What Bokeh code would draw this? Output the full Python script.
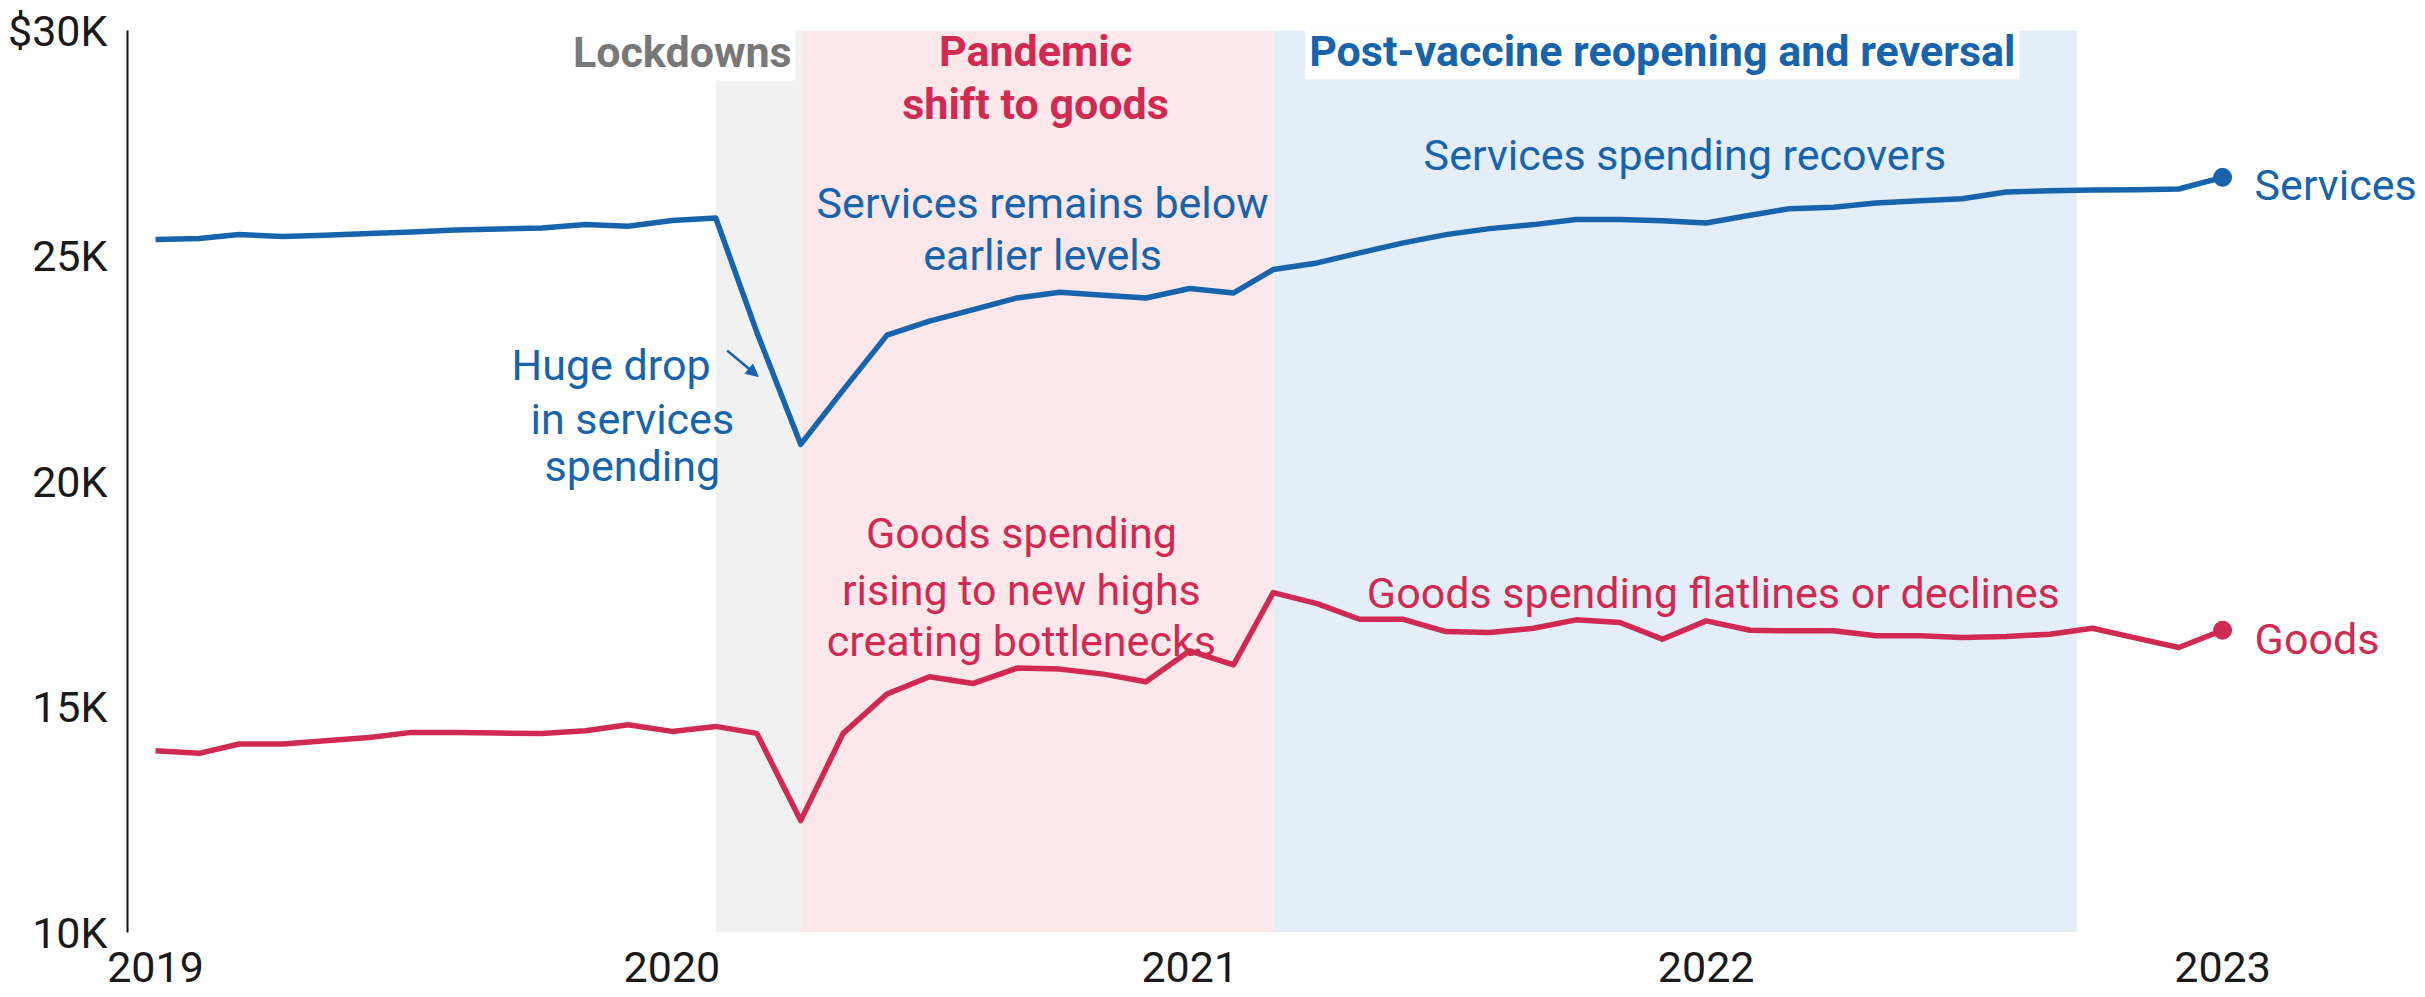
import pandas as pd
from bokeh.plotting import figure
from bokeh.models import (Range1d, FixedTicker, DatetimeTickFormatter, BoxAnnotation,
                          Label, ColumnDataSource, Arrow, NormalHead)
from bokeh.embed import file_html
from bokeh.resources import INLINE

# ---------------- data ----------------
months = pd.date_range("2019-01-01", "2023-01-01", freq="MS")

services = [25364, 25386, 25475, 25431, 25460, 25497, 25533, 25578, 25601, 25623, 25697, 25659,
            25785, 25843, 23311, 20824, 22026, 23245, 23555, 23813, 24070, 24197, 24130, 24070,
            24278, 24181, 24700, 24846, 25068, 25290, 25474, 25607, 25696, 25807, 25807, 25784,
            25733, 25903, 26050, 26080, 26175, 26227, 26271, 26419, 26449, 26464, 26471, 26486,
            26744]

goods = [14031, 13972, 14179, 14179, 14253, 14326, 14437, 14437, 14422, 14415, 14474, 14607,
         14459, 14570, 14415, 12481, 14415, 15287, 15670, 15523, 15862, 15840, 15729, 15559,
         16246, 15936, 17537, 17293, 16945, 16945, 16673, 16651, 16747, 16932, 16873, 16504,
         16910, 16703, 16689, 16689, 16578, 16578, 16541, 16563, 16615, 16747, 16527, 16319,
         16703]

period_edges = ["2020-02-01", "2020-04-01", "2021-03-01", "2022-09-20"]
period_names = ["Lockdowns", "Pandemic\nshift to goods", "Post-vaccine reopening and reversal"]

year_ticks = ["2019-01-01", "2020-01-01", "2021-01-01", "2022-01-01", "2023-01-01"]
y_ticks = [10000, 15000, 20000, 25000, 30000]
y_tick_labels = ["10K", "15K", "20K", "25K", "$30K"]

# ---------------- style ----------------
BLUE = "#1764ac"
RED = "#d12a52"
GRAY = "#787878"
FONT = "Roboto"
FS = "43px"


def ms(d):
    return pd.Timestamp(d).value / 1e6


src = ColumnDataSource(dict(date=months, services=services, goods=goods))

p = figure(width=2425, height=997, x_axis_type="datetime",
           x_range=Range1d(ms("2018-12-12 05:00"), ms("2023-05-24 10:00")),
           y_range=Range1d(10000, 30000),
           min_border_left=127, min_border_right=0, min_border_top=30, min_border_bottom=65,
           output_backend="svg", toolbar_location=None)

p.grid.visible = False
p.outline_line_color = None
p.background_fill_color = "white"
p.border_fill_color = "white"

# shaded periods
band_colors = ["#f1f1f1", "#fce7eb", "#e3eef8"]
for i, c in enumerate(band_colors):
    p.add_layout(BoxAnnotation(left=ms(period_edges[i]), right=ms(period_edges[i + 1]),
                               fill_color=c, fill_alpha=1.0, line_color=None, level="underlay"))

# lines
p.line("date", "services", source=src, line_color=BLUE, line_width=5.5, line_join="round")
p.line("date", "goods", source=src, line_color=RED, line_width=5.5, line_join="round")
p.scatter([months[-1]], [services[-1]], size=18, color=BLUE)
p.scatter([months[-1]], [goods[-1]], size=18, color=RED)

# axes
p.xaxis.ticker = FixedTicker(ticks=[ms(t) for t in year_ticks])
p.xaxis.formatter = DatetimeTickFormatter(years="%Y", months="%Y", days="%Y", hours="%Y",
                                          minutes="%Y", seconds="%Y", milliseconds="%Y",
                                          microseconds="%Y", hourmin="%Y", minsec="%Y")
p.xaxis.axis_line_color = None
p.xaxis.major_tick_line_color = None
p.xaxis.minor_tick_line_color = None
p.xaxis.major_label_standoff = 13
p.xaxis.major_label_text_font = FONT
p.xaxis.major_label_text_font_size = FS
p.xaxis.major_label_text_color = "#1a1a1a"

p.yaxis.ticker = FixedTicker(ticks=y_ticks)
p.yaxis.major_label_overrides = {t: l for t, l in zip(y_ticks, y_tick_labels)}
p.yaxis.axis_line_color = "#111111"
p.yaxis.axis_line_width = 2
p.yaxis.major_tick_line_color = None
p.yaxis.minor_tick_line_color = None
p.yaxis.major_label_standoff = 14
p.yaxis.major_label_text_font = FONT
p.yaxis.major_label_text_font_size = FS
p.yaxis.major_label_text_color = "#1a1a1a"


def label(text, x, y, color, bold=False, align="center", bg=None, x_offset=0, y_offset=0,
          baseline="alphabetic"):
    kw = dict(x=ms(x), y=y, text=text, text_font=FONT, text_font_size=FS, text_color=color,
              text_font_style="bold" if bold else "normal", text_align=align,
              text_baseline=baseline, x_offset=x_offset, y_offset=y_offset)
    if bg:
        kw.update(background_fill_color=bg, padding=4)
    p.add_layout(Label(**kw))


# period titles
label(period_names[0], period_edges[1], 29533, GRAY, bold=True, align="right", bg="white",
      x_offset=-5)
pand1, pand2 = period_names[1].split("\n")
label(pand1, "2020-09-14", 29555, RED, bold=True)
label(pand2, "2020-09-14", 28360, RED, bold=True)
label(period_names[2], "2021-12-01", 29555, BLUE, bold=True, bg="white")

# annotations
label("Services remains below", "2020-09-19", 26182, BLUE)
label("earlier levels", "2020-09-19", 25029, BLUE)
label("Services spending recovers", "2021-12-17", 27236, BLUE)
label("Huge drop", "2019-11-19", 22590, BLUE)
label("in services", "2019-12-04", 21378, BLUE)
label("spending", "2019-12-04", 20336, BLUE)
p.add_layout(Arrow(x_start=ms("2020-02-09"), y_start=22905, x_end=ms("2020-03-02"), y_end=22328,
                   line_color=BLUE, line_width=2.5,
                   end=NormalHead(size=12, line_color=BLUE, fill_color=BLUE, line_width=1)))
label("Goods spending", "2020-09-04", 18865, RED)
label("rising to new highs", "2020-09-04", 17598, RED)
label("creating bottlenecks", "2020-09-04", 16456, RED)
label("Goods spending flatlines or declines", "2022-01-06", 17535, RED)

# end labels
label("Services", months[-1], services[-1], BLUE, align="left", x_offset=32, y_offset=-8,
      baseline="middle")
label("Goods", months[-1], goods[-1], RED, align="left", x_offset=32, y_offset=-9,
      baseline="middle")

open("out.html", "w").write(file_html(p, INLINE))
